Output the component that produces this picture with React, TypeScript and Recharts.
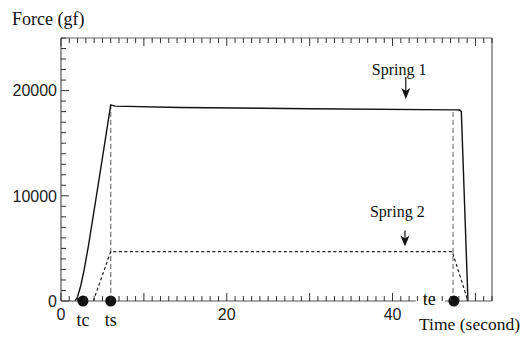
import { ComposedChart, Line, Scatter, XAxis, YAxis, ReferenceDot } from "recharts";

// Spring 1 force curve (time in s, force in gf)
const spring1T = [1.7, 2.0, 2.4, 2.8, 3.3, 4.5, 6.0, 6.5, 14.4, 30, 47.5, 48.1, 48.3, 49.1];
const spring1F = [0, 400, 1500, 3000, 5200, 11100, 18640, 18520, 18390, 18280, 18170, 18160, 18000, 0];

// Spring 2 force curve
const spring2T = [3.9, 6.0, 47.2, 49.1];
const spring2F = [0, 4700, 4700, 0];

// event markers on the time axis
const markerNames = ["tc", "ts", "te"];
const markerT = [2.65, 6.0, 47.4];

// dashed guides from the axis up to spring 1 at ts and te
const guideT = [6.0, 47.3];
const guideTopF = [18640, 18170];

const xTickLabels = [0, 20, 40];
const yTickLabels = [0, 10000, 20000];
const xTicks = Array.from({ length: 53 }, (_, i) => i);
const yTicks = Array.from({ length: 26 }, (_, i) => i * 1000);

const spring1 = spring1T.map((t, i) => ({ t, f: spring1F[i] }));
const spring2 = spring2T.map((t, i) => ({ t, f: spring2F[i] }));
const markers = markerNames.map((name, i) => ({ name, t: markerT[i], f: 0 }));
const guides = guideT.map((t, i) => [
  { t, f: 0 },
  { t, f: guideTopF[i] },
]);

const SERIF = "'Liberation Serif', 'Times New Roman', serif";
const SANS = "'Liberation Sans', Arial, sans-serif";

const W = 514;
const H = 330;
const MARGIN = { top: 29, right: 29, bottom: 0, left: 0 };
const X_AXIS_H = 37;
const PLOT_H = H - MARGIN.top - 1 - X_AXIS_H;

// bottom ticks point inward; the matching top ticks are mirrored onto the frame
const BottomTick = (props: any) => {
  const { x, y, payload } = props;
  const v = payload.value;
  const len = v % 10 === 0 ? 8 : 5;
  const top = y - PLOT_H;
  return (
    <g>
      <line x1={x} y1={y} x2={x} y2={y - len} stroke="#333" />
      <line x1={x} y1={top} x2={x} y2={top + len} stroke="#333" />
      {xTickLabels.includes(v) && (
        <text x={x} y={y + 19} textAnchor="middle" fontFamily={SANS} fontSize={16} fill="#222">
          {v}
        </text>
      )}
    </g>
  );
};

const LeftTick = (props: any) => {
  const { x, y, payload } = props;
  const v = payload.value;
  const len = v % 10000 === 0 ? 8 : 5;
  return (
    <g>
      <line x1={x} y1={y} x2={x + len} y2={y} stroke="#333" />
      {yTickLabels.includes(v) && (
        <text x={x - 4} y={y + 5.7} textAnchor="end" fontFamily={SANS} fontSize={16} fill="#222">
          {v}
        </text>
      )}
    </g>
  );
};

const MarkerDot = (props: any) => {
  const { cx, cy, payload } = props;
  if (payload.name === "te") {
    return (
      <g>
        <rect x={cx - 38} y={cy - 9} width={29} height={17} fill="#fff" />
        <text x={cx - 18} y={cy + 4} textAnchor="end" fontFamily={SERIF} fontSize={18} fill="#111">
          {payload.name}
        </text>
        <circle cx={cx} cy={cy} r={5.5} fill="#111" />
      </g>
    );
  }
  return (
    <g>
      <circle cx={cx} cy={cy} r={5.5} fill="#111" />
      <text x={cx} y={cy + 25} textAnchor="middle" fontFamily={SERIF} fontSize={18} fill="#111">
        {payload.name}
      </text>
    </g>
  );
};

const arrowNote = (text: string, shaft: number, gap: number, dx: number) => (p: any) => {
  const { x, y } = p.viewBox;
  return (
    <g>
      <line x1={x} y1={y - shaft} x2={x} y2={y - 8} stroke="#111" strokeWidth={1.2} />
      <polygon points={`${x - 4.5},${y - 11} ${x},${y - 8} ${x + 4.5},${y - 11} ${x},${y}`} fill="#111" />
      <text x={x - dx} y={y - shaft - gap} fontFamily={SERIF} fontSize={16} fill="#111">
        {text}
      </text>
    </g>
  );
};

export default function App() {
  return (
    <div style={{ position: "fixed", left: 8, top: 8, width: W, height: H, background: "#fff" }}>
      <ComposedChart width={W} height={H} margin={MARGIN}>
        <XAxis
          dataKey="t"
          type="number"
          domain={[0, 52]}
          ticks={xTicks}
          interval={0}
          height={X_AXIS_H}
          tickSize={0}
          tickMargin={0}
          tickLine={false}
          tick={BottomTick}
          axisLine={{ stroke: "#555", strokeWidth: 1.2 }}
        />
        <XAxis
          xAxisId="top"
          dataKey="t"
          orientation="top"
          type="number"
          domain={[0, 52]}
          height={1}
          tick={false}
          tickLine={false}
          axisLine={{ stroke: "#666", strokeWidth: 1.2 }}
        />
        <YAxis
          type="number"
          domain={[0, 25000]}
          ticks={yTicks}
          interval={0}
          width={53}
          tickSize={0}
          tickMargin={0}
          tickLine={false}
          tick={LeftTick}
          axisLine={{ stroke: "#555", strokeWidth: 1.2 }}
        />
        <YAxis
          yAxisId="right"
          orientation="right"
          type="number"
          domain={[0, 25000]}
          width={1}
          tick={false}
          tickLine={false}
          axisLine={{ stroke: "#777", strokeWidth: 1.4 }}
        />
        {guides.map((g, i) => (
          <Line
            key={i}
            data={g}
            dataKey="f"
            type="linear"
            stroke="#777"
            strokeWidth={1.2}
            strokeDasharray="5 3"
            dot={false}
            activeDot={false}
            isAnimationActive={false}
          />
        ))}
        <Line
          xAxisId="top"
          yAxisId="right"
          data={spring2}
          dataKey="f"
          type="linear"
          stroke="#222"
          strokeWidth={1.2}
          strokeDasharray="3 2.5"
          dot={false}
          activeDot={false}
          isAnimationActive={false}
        />
        <Line
          data={spring1}
          dataKey="f"
          type="linear"
          stroke="#111"
          strokeWidth={1.4}
          dot={false}
          activeDot={false}
          isAnimationActive={false}
        />
        <Scatter data={markers} dataKey="f" shape={MarkerDot} isAnimationActive={false} />
        <ReferenceDot x={41.6} y={19210} r={0} fill="none" stroke="none" label={arrowNote("Spring 1", 22, 2, 34)} />
        <ReferenceDot x={41.5} y={5170} r={0} fill="none" stroke="none" label={arrowNote("Spring 2", 16, 14, 35)} />
      </ComposedChart>
      <svg
        width={W}
        height={H}
        style={{ position: "absolute", left: 0, top: 0, pointerEvents: "none" }}
      >
        <text x={4} y={17} fontFamily={SERIF} fontSize={18} fill="#111">
          Force (gf)
        </text>
        <text x={512} y={322} textAnchor="end" fontFamily={SERIF} fontSize={17.5} fill="#111">
          Time (second)
        </text>
      </svg>
    </div>
  );
}
